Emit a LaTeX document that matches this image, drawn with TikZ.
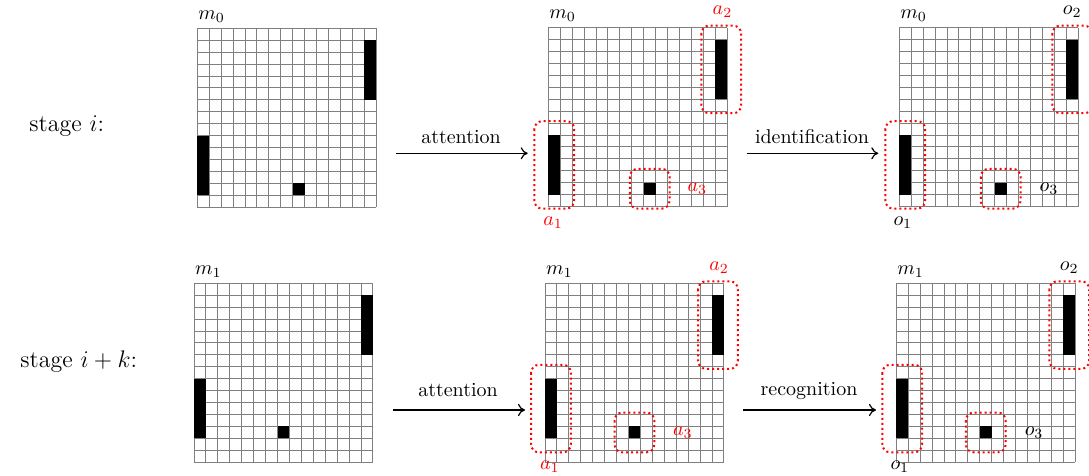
\documentclass[tikz,border=0pt]{standalone}
\usetikzlibrary{arrows.meta}
\newcommand{\mygridlines}{%
  \foreach \i in {0,...,15}{\draw[gridline] (\i,0) -- (\i,15); \draw[gridline] (0,\i) -- (15,\i);}}
\newcommand{\cellsA}{%
  \fill[cellfill] (14,1) rectangle (15,6);
  \fill[cellfill] (0,9) rectangle (1,14);
  \fill[cellfill] (8,13) rectangle (9,14);}
\newcommand{\cellsB}{%
  \fill[cellfill] (14,1) rectangle (15,6);
  \fill[cellfill] (0,8) rectangle (1,13);
  \fill[cellfill] (7,12) rectangle (8,13);}
\newcommand{\boxesA}{%
  \draw[redbox] (12.83,-0.17) rectangle (16.17,7.17);
  \draw[redbox] (-1.17,7.83) rectangle (2.17,15.17);
  \draw[redbox] (6.83,11.83) rectangle (10.17,15.17);}
\newcommand{\boxesB}{%
  \draw[redbox] (12.83,-0.17) rectangle (16.17,7.17);
  \draw[redbox] (-1.17,6.83) rectangle (2.17,14.17);
  \draw[redbox] (5.83,10.83) rectangle (9.17,14.17);}
\begin{document}
\begin{tikzpicture}[x=0.5pt,y=-0.5pt,
  gridline/.style={draw=black!50, line width=0.5pt},
  cellfill/.style={fill=black},
  redbox/.style={draw=red, line width=1pt, dash pattern=on 1pt off 1.5pt, rounded corners=4pt},
  redlab/.style={text=red, inner sep=0pt},
  blklab/.style={text=black, inner sep=0pt},
  mlab/.style={inner sep=0pt},
  arr/.style={-{To[length=3.5pt,width=6pt]}, line width=0.6pt},
  arrlab/.style={anchor=base, inner sep=0pt},
  stagelab/.style={font=\large, inner sep=0pt, anchor=base west}]
\useasboundingbox (0,0) rectangle (1089,476);

% stage labels
\node[stagelab] (st1) at (29,131.7) {stage $i$:};
\node[stagelab] (st2) at (20,368) {stage $i+k$:};

% grid 1
\begin{scope}[shift={(197.3,28.3)}, x=5.965pt, y=-5.965pt]
  \mygridlines \cellsA
  \node[mlab] (m0a) at (1.2,-1) {$m_0$};
\end{scope}
% grid 2
\begin{scope}[shift={(548.3,27.7)}, x=5.965pt, y=-5.965pt]
  \mygridlines \cellsA \boxesA
  \node[mlab] (m0b) at (1.2,-1) {$m_0$};
  \node[redlab] (a2i) at (14.6,-1.34) {$a_2$};
  \node[redlab] (a1i) at (0.4,16.37) {$a_1$};
  \node[redlab] (a3i) at (12.5,13.5) {$a_3$};
\end{scope}
% grid 3
\begin{scope}[shift={(899.3,27.7)}, x=5.965pt, y=-5.965pt]
  \mygridlines \cellsA \boxesA
  \node[mlab] (m0c) at (1.2,-1) {$m_0$};
  \node[blklab] (o2i) at (14.5,-1.34) {$o_2$};
  \node[blklab] (o1i) at (0.3,16.37) {$o_1$};
  \node[blklab] (o3i) at (12.55,13.5) {$o_3$};
\end{scope}
% grid 4
\begin{scope}[shift={(194,283.3)}, x=5.965pt, y=-5.965pt]
  \mygridlines \cellsB
  \node[mlab] (m1a) at (1.2,-1) {$m_1$};
\end{scope}
% grid 5
\begin{scope}[shift={(545,283.3)}, x=5.965pt, y=-5.965pt]
  \mygridlines \cellsB \boxesB
  \node[mlab] (m1b) at (1.2,-1) {$m_1$};
  \node[redlab] (a2k) at (14.6,-1.34) {$a_2$};
  \node[redlab] (a1k) at (0.4,15.37) {$a_1$};
  \node[redlab] (a3k) at (11.55,12.5) {$a_3$};
\end{scope}
% grid 6
\begin{scope}[shift={(896.3,283.3)}, x=5.965pt, y=-5.965pt]
  \mygridlines \cellsB \boxesB
  \node[mlab] (m1c) at (1.2,-1) {$m_1$};
  \node[blklab] (o2k) at (14.5,-1.34) {$o_2$};
  \node[blklab] (o1k) at (0.3,15.37) {$o_1$};
  \node[blklab] (o3k) at (11.55,12.5) {$o_3$};
\end{scope}

% arrows
\coordinate (r1a) at (396,153.3);
\coordinate (r1b) at (527.7,153.3);
\coordinate (r1c) at (746.7,153.3);
\coordinate (r1d) at (878.3,153.3);
\coordinate (r2a) at (393,410);
\coordinate (r2b) at (525,410);
\coordinate (r2c) at (743,410);
\coordinate (r2d) at (876,410);
\draw[arr] (r1a) -- (r1b);
\draw[arr] (r1c) -- (r1d);
\draw[arr] (r2a) -- (r2b);
\draw[arr] (r2c) -- (r2d);
\node[arrlab] (l1) at (461,144) {attention};
\node[arrlab] (l2) at (812,143.5) {identification};
\node[arrlab] (l3) at (458,396) {attention};
\node[arrlab] (l4) at (809,395) {recognition};
\end{tikzpicture}
\end{document}
